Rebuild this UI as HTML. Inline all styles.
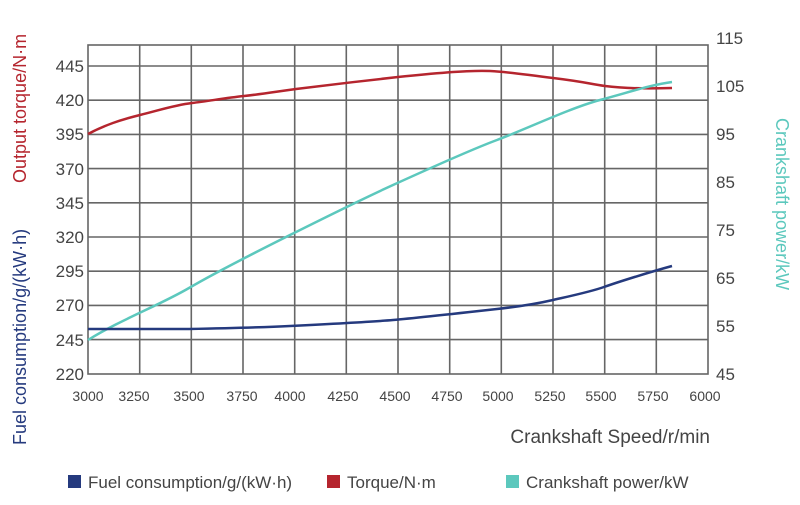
<!DOCTYPE html><html><head><style>body{margin:0;background:#fff}svg{font-family:"Liberation Sans",sans-serif}</style></head><body>
<svg width="800" height="500" xmlns="http://www.w3.org/2000/svg">
<rect width="800" height="500" fill="#fff"/>
<g stroke="#666" stroke-width="1.6" fill="none">
<rect x="88" y="45" width="620" height="329"/>
<path d="M139.7 45V374M191.3 45V374M243 45V374M294.7 45V374M346.3 45V374M398 45V374M449.7 45V374M501.3 45V374M553 45V374M604.7 45V374M656.3 45V374"/>
<path d="M88 66H708M88 100.2H708M88 134.4H708M88 168.6H708M88 202.8H708M88 237H708M88 271.2H708M88 305.4H708M88 339.6H708"/>
</g>
<g font-size="17" fill="#444" text-anchor="end">
<text x="84" y="72">445</text><text x="84" y="106">420</text><text x="84" y="140">395</text><text x="84" y="175">370</text><text x="84" y="209">345</text><text x="84" y="243">320</text><text x="84" y="277">295</text><text x="84" y="311">270</text><text x="84" y="346">245</text><text x="84" y="380">220</text>
</g>
<g font-size="17" fill="#444">
<text x="716" y="44">115</text><text x="716" y="92">105</text><text x="716" y="140">95</text><text x="716" y="188">85</text><text x="716" y="236">75</text><text x="716" y="284">65</text><text x="716" y="332">55</text><text x="716" y="380">45</text>
</g>
<g font-size="14" fill="#444" text-anchor="middle">
<text x="88" y="401">3000</text><text x="134" y="401">3250</text><text x="189" y="401">3500</text><text x="242" y="401">3750</text><text x="290" y="401">4000</text><text x="343" y="401">4250</text><text x="395" y="401">4500</text><text x="447" y="401">4750</text><text x="498" y="401">5000</text><text x="550" y="401">5250</text><text x="601" y="401">5500</text><text x="653" y="401">5750</text><text x="705" y="401">6000</text>
</g>
<text x="710" y="443" font-size="19" fill="#444" text-anchor="end">Crankshaft Speed/r/min</text>
<text transform="translate(26,183) rotate(-90)" font-size="18" fill="#b5252e">Output torque/N·m</text>
<text transform="translate(26,445) rotate(-90)" font-size="18" fill="#253a7e">Fuel consumption/g/(kW·h)</text>
<text transform="translate(776,118) rotate(90)" font-size="18" fill="#5cc8bd">Crankshaft power/kW</text>
<g fill="none" stroke-width="2.5">
<path d="M88 134 C105 125,120 120,140 115 S175 105,192 103 S225 98,244 96 S280 91,296 89 S370 80,398 77 S470 70,490 71 S520 74,553 78 S590 84,605 86 S640 89,672 88" stroke="#b5252e"/>
<path d="M88 340 C120 320,160 305,189 288 S260 250,290 235 S360 200,393 185 S470 150,497 140 S570 108,600 100 S650 85,672 82" stroke="#5cc8bd"/>
<path d="M88 329 L189 329 C240 328,270 327,290 326 S370 322,393 320 S470 312,497 309 S540 303,553 300 S590 292,604 287 S650 272,672 266" stroke="#253a7e"/>
</g>
<rect x="68" y="475" width="13" height="13" fill="#253a7e"/>
<text x="88" y="488" font-size="17" fill="#444">Fuel consumption/g/(kW·h)</text>
<rect x="327" y="475" width="13" height="13" fill="#b5252e"/>
<text x="347" y="488" font-size="17" fill="#444">Torque/N·m</text>
<rect x="506" y="475" width="13" height="13" fill="#5cc8bd"/>
<text x="526" y="488" font-size="17" fill="#444">Crankshaft power/kW</text>
</svg></body></html>
